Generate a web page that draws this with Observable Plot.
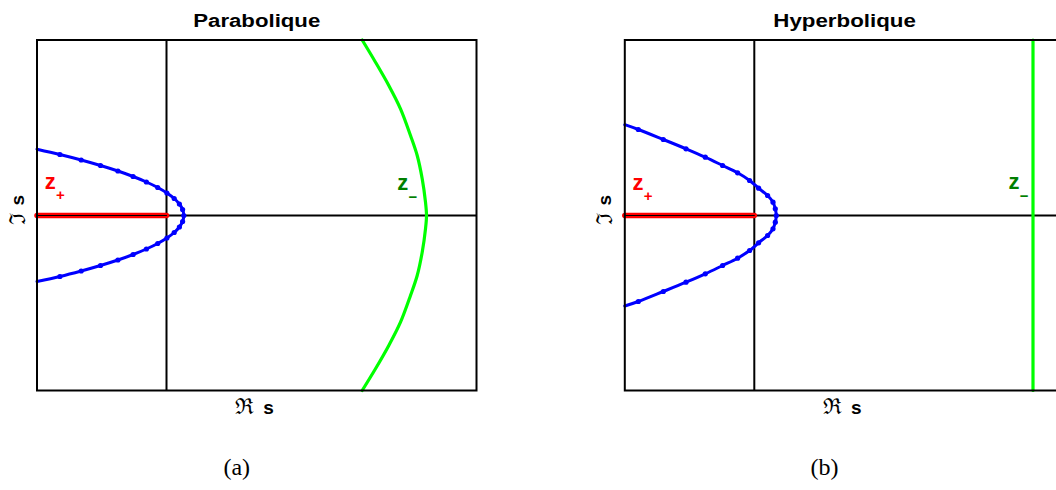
<!DOCTYPE html>
<html><head><meta charset="utf-8">
<script src="https://cdn.jsdelivr.net/npm/d3@7"></script>
<script src="https://cdn.jsdelivr.net/npm/@observablehq/plot@0.6"></script>
<style>
html,body{margin:0;padding:0;background:#fff;overflow:hidden}
#wrap{position:relative;width:1056px;height:490px;overflow:hidden;background:#fff}
#wrap svg{position:absolute;top:0}
</style></head><body><div id="wrap"></div>
<script>
// ---- Panel (a): parabolic contour ----
const paraNodeX = [-1.066, -0.853, -0.66, -0.486, -0.334, -0.201, -0.088, 0.004, 0.077, 0.129, 0.161, 0.173,
                   0.161, 0.129, 0.077, 0.004, -0.088, -0.201, -0.334, -0.486, -0.66, -0.853, -1.066];
const paraNodeY = [0.61, 0.555, 0.50, 0.445, 0.39, 0.335, 0.28, 0.225, 0.17, 0.115, 0.06, 0,
                   -0.06, -0.115, -0.17, -0.225, -0.28, -0.335, -0.39, -0.445, -0.50, -0.555, -0.61];
const paraEndX = [-1.295, -1.295];
const paraEndY = [0.663, -0.66];
const paraGreenX = [1.957, 2.09, 2.223, 2.34, 2.44, 2.507, 2.557, 2.59, 2.60, 2.59, 2.557, 2.507, 2.44, 2.34, 2.223, 2.09, 1.957];
const paraGreenY = [1.755, 1.533, 1.30, 1.067, 0.80, 0.60, 0.367, 0.133, 0, -0.133, -0.367, -0.60, -0.80, -1.067, -1.30, -1.533, -1.75];
const paraLabels = [{sign: "+", x: -1.217, y: 0.267}, {sign: "−", x: 2.307, y: 0.26}];

// ---- Panel (b): hyperbolic contour ----
const hypNodeX = [-1.16, -0.91, -0.683, -0.49, -0.317, -0.167, -0.047, 0.043, 0.133, 0.187, 0.21, 0.22,
                  0.21, 0.187, 0.133, 0.043, -0.047, -0.167, -0.317, -0.49, -0.683, -0.91, -1.16];
const hypNodeY = [0.86, 0.76, 0.667, 0.583, 0.50, 0.427, 0.35, 0.273, 0.20, 0.133, 0.067, 0,
                  -0.067, -0.133, -0.20, -0.273, -0.35, -0.427, -0.50, -0.583, -0.667, -0.76, -0.86];
const hypEndX = [-1.295, -1.295];
const hypEndY = [0.908, -0.905];
const hypGreenX = [2.787, 2.787];
const hypGreenY = [1.755, -1.75];
const hypLabels = [{sign: "+", x: -1.217, y: 0.26}, {sign: "−", x: 2.543, y: 0.267}];

// negative real axis (branch cut)
const cutX = [-1.295, 0];
const cutY = [0, 0];

const titles = ["Parabolique", "Hyperbolique"];
const captions = ["(a)", "(b)"];
const reLabel = ["ℜ", "s"];
const imLabel = ["ℑ", "s"];

const xDomain = [-1.295, 3.1];
const yDomain = [-1.75, 1.755];
const SANS = "Liberation Sans, Arial, Helvetica, sans-serif";

function pts(xs, ys) { return xs.map((x, i) => ({x, y: ys[i]})); }

function panel({left, width, marginLeft, marginRight, title, titleLen, caption, nodesX, nodesY, endX, endY, greenX, greenY, greenCurve, labels}) {
  const nodes = pts(nodesX, nodesY);
  const line = [{x: endX[0], y: endY[0]}, ...nodes, {x: endX[1], y: endY[1]}];
  const green = pts(greenX, greenY);
  const cut = pts(cutX, cutY);
  const svg = Plot.plot({
    width, height: 490,
    marginLeft, marginRight, marginTop: 39.5, marginBottom: 100,
    x: {domain: xDomain, axis: null},
    y: {domain: yDomain, axis: null},
    style: {background: "transparent", overflow: "visible"},
    marks: [
      Plot.ruleY([0], {stroke: "black", strokeWidth: 2}),
      Plot.ruleX([0], {stroke: "black", strokeWidth: 2}),
      Plot.line(cut, {x: "x", y: "y", stroke: "#ff0000", strokeWidth: 5.5}),
      Plot.line(cut, {x: "x", y: "y", stroke: "black", strokeWidth: 1.1}),
      Plot.line(line, {x: "x", y: "y", stroke: "#0000ff", strokeWidth: 3, curve: "catmull-rom"}),
      Plot.dot(nodes, {x: "x", y: "y", r: 2.6, fill: "#0000ff", stroke: "none"}),
      Plot.line(green, {x: "x", y: "y", stroke: "#00ff00", strokeWidth: 3.2, curve: greenCurve}),
      Plot.frame({stroke: "black", strokeWidth: 2}),
      // z labels
      Plot.text(labels, {filter: d => d.sign === "+", x: "x", y: "y", text: () => "z", fill: "#ff0000",
        fontSize: 22, fontWeight: "bold", fontFamily: SANS, textAnchor: "start", lineAnchor: "bottom"}),
      Plot.text(labels, {filter: d => d.sign === "+", x: "x", y: "y", text: "sign", fill: "#ff0000",
        fontSize: 15, fontWeight: "bold", fontFamily: SANS, textAnchor: "start", lineAnchor: "bottom", dx: 11.2, dy: 11.5}),
      Plot.text(labels, {filter: d => d.sign === "−", x: "x", y: "y", text: () => "z", fill: "#007f00",
        fontSize: 22, fontWeight: "bold", fontFamily: SANS, textAnchor: "start", lineAnchor: "bottom"}),
      Plot.text(labels, {filter: d => d.sign === "−", x: "x", y: "y", text: "sign", fill: "#007f00",
        fontSize: 15, fontWeight: "bold", fontFamily: SANS, textAnchor: "start", lineAnchor: "bottom", dx: 11.2, dy: 12}),
      // title
      Plot.text([title], {frameAnchor: "top", dy: -12.6, lineAnchor: "bottom", fontSize: 17.5, fontWeight: "bold",
        fontFamily: SANS, fill: "black"}),
      // x label
      Plot.text([reLabel[0]], {frameAnchor: "bottom", dx: -12, dy: 23, lineAnchor: "bottom", fontSize: 22,
        fontFamily: "DejaVu Serif, serif", fill: "black"}),
      Plot.text([reLabel[1]], {frameAnchor: "bottom", dx: 11.8, dy: 23, lineAnchor: "bottom", fontSize: 19,
        fontWeight: "bold", fontFamily: SANS, fill: "black"}),
      // y label
      Plot.text([imLabel[0]], {frameAnchor: "left", dx: -19.5, dy: 9.3, rotate: -90, fontSize: 22,
        fontFamily: "DejaVu Serif, serif", fill: "black"}),
      Plot.text([imLabel[1]], {frameAnchor: "left", dx: -19.5, dy: -9.8, rotate: -90, fontSize: 19,
        fontWeight: "bold", fontFamily: SANS, fill: "black"}),
      // caption
      Plot.text([caption], {frameAnchor: "bottom", dx: -20, dy: 84, lineAnchor: "bottom", fontSize: 24,
        fontFamily: "Liberation Serif, Times New Roman, serif", fill: "black"})
    ]
  });
  svg.style.left = left + "px";
  d3.select(svg).selectAll("text")
    .filter(function() { return this.textContent === title; })
    .attr("textLength", titleLen).attr("lengthAdjust", "spacingAndGlyphs");
  return svg;
}

const wrap = document.getElementById("wrap");
wrap.appendChild(panel({
  left: 0, width: 528, marginLeft: 36.5, marginRight: 52,
  title: titles[0], titleLen: 127, caption: captions[0],
  nodesX: paraNodeX, nodesY: paraNodeY, endX: paraEndX, endY: paraEndY,
  greenX: paraGreenX, greenY: paraGreenY, greenCurve: "catmull-rom", labels: paraLabels
}));
wrap.appendChild(panel({
  left: 528, width: 560, marginLeft: 96.3, marginRight: 24.2,
  title: titles[1], titleLen: 142.5, caption: captions[1],
  nodesX: hypNodeX, nodesY: hypNodeY, endX: hypEndX, endY: hypEndY,
  greenX: hypGreenX, greenY: hypGreenY, greenCurve: "linear", labels: hypLabels
}));
</script></body></html>
